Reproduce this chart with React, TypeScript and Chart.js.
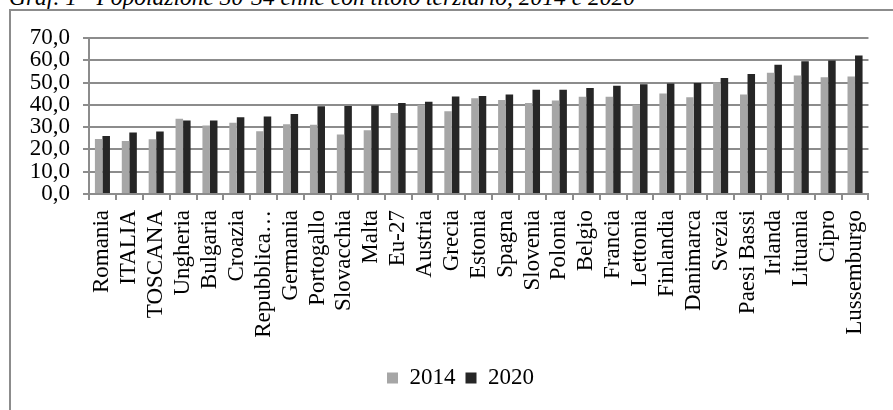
import React, { useEffect, useRef } from "react";
import { Chart, registerables } from "chart.js";

Chart.register(...registerables);

const categories = [
  "Romania", "ITALIA", "TOSCANA", "Ungheria", "Bulgaria", "Croazia", "Repubblica…",
  "Germania", "Portogallo", "Slovacchia", "Malta", "Eu-27", "Austria", "Grecia",
  "Estonia", "Spagna", "Slovenia", "Polonia", "Belgio", "Francia", "Lettonia",
  "Finlandia", "Danimarca", "Svezia", "Paesi Bassi", "Irlanda", "Lituania", "Cipro",
  "Lussemburgo",
];

const values2014 = [
  24.7, 23.8, 24.6, 33.8, 30.7, 32.0, 28.2, 31.3, 31.1, 26.7, 28.6, 36.4, 39.9, 37.1,
  43.0, 42.2, 40.8, 42.0, 43.6, 43.6, 40.0, 45.1, 43.4, 50.1, 44.7, 54.4, 53.2, 52.4,
  52.7,
];

const values2020 = [
  26.0, 27.6, 28.1, 33.0, 33.0, 34.4, 34.8, 35.9, 39.4, 39.5, 39.7, 40.8, 41.4, 43.7,
  44.0, 44.6, 46.8, 46.8, 47.6, 48.6, 49.2, 49.6, 49.8, 52.1, 53.9, 58.0, 59.6, 59.9,
  62.1,
];

const seriesLabels = ["2014", "2020"];
const yMin = 0;
const yMax = 70;
const yStep = 10;

const titleText = "Graf. 1 - Popolazione 30-34 enne con titolo terziario, 2014 e 2020";

const FONT = "'Liberation Serif', 'Times New Roman', serif";
const GRID = "#8c8c8c";

const legendShift = {
  id: "legendShift",
  afterLayout(chart: any) {
    const l = chart.legend;
    if (l) {
      l.left += 20;
      l.right += 20;
    }
  },
};

export default function App() {
  const ref = useRef<HTMLCanvasElement>(null);

  useEffect(() => {
    if (!ref.current) return;
    const chart = new Chart(ref.current, {
      type: "bar",
      data: {
        labels: categories,
        datasets: [
          {
            label: seriesLabels[0],
            data: values2014,
            backgroundColor: "#a6a6a6",
            categoryPercentage: 0.56,
            barPercentage: 1,
          },
          {
            label: seriesLabels[1],
            data: values2020,
            backgroundColor: "#262626",
            categoryPercentage: 0.56,
            barPercentage: 1,
          },
        ],
      },
      options: {
        responsive: false,
        animation: false,
        layout: { padding: { left: 9, right: 21, top: 38, bottom: 10.5 } },
        plugins: {
          legend: {
            position: "bottom",
            labels: {
              boxWidth: 11,
              boxHeight: 11,
              padding: 10,
              color: "#000",
              font: { family: FONT, size: 23 },
            },
          },
          tooltip: { enabled: false },
        },
        scales: {
          x: {
            grid: {
              display: true,
              drawOnChartArea: false,
              drawTicks: true,
              tickLength: 6,
              color: GRID,
              lineWidth: 2,
              offset: true,
            },
            border: { display: true, color: GRID, width: 2 },
            ticks: {
              minRotation: 90,
              maxRotation: 90,
              autoSkip: false,
              padding: 10,
              color: "#000",
              font: { family: FONT, size: 23 },
            },
            afterFit: (s: any) => {
              s.height = 162.5;
            },
          },
          y: {
            min: yMin,
            max: yMax,
            ticks: {
              stepSize: yStep,
              autoSkip: false,
              padding: 13,
              color: "#000",
              font: { family: FONT, size: 23 },
              callback: (v: any) => Number(v).toFixed(1).replace(".", ","),
            },
            grid: { color: GRID, lineWidth: 2, tickLength: 6, drawTicks: true },
            border: { display: true, color: GRID, width: 2 },
            afterFit: (s: any) => {
              s.width = 80;
            },
          },
        },
      },
      plugins: [legendShift],
    });
    return () => chart.destroy();
  }, []);

  return (
    <div
      style={{
        position: "fixed",
        left: 0,
        top: 0,
        width: 893,
        height: 410,
        overflow: "hidden",
        background: "#fff",
      }}
    >
      <div
        style={{
          position: "absolute",
          left: 9,
          top: -14.5,
          fontFamily: FONT,
          fontStyle: "italic",
          fontSize: 23.5,
          lineHeight: "23px",
          whiteSpace: "nowrap",
          color: "#000",
        }}
      >
        {titleText}
      </div>
      <div
        style={{
          position: "absolute",
          left: 9,
          top: 9,
          width: 950,
          height: 450,
          borderLeft: "2px solid #8c8c8c",
          borderTop: "2px solid #8c8c8c",
          boxSizing: "border-box",
        }}
      />
      <canvas
        ref={ref}
        width={893}
        height={410}
        style={{ position: "absolute", left: 0, top: 0, display: "block" }}
      />
    </div>
  );
}
